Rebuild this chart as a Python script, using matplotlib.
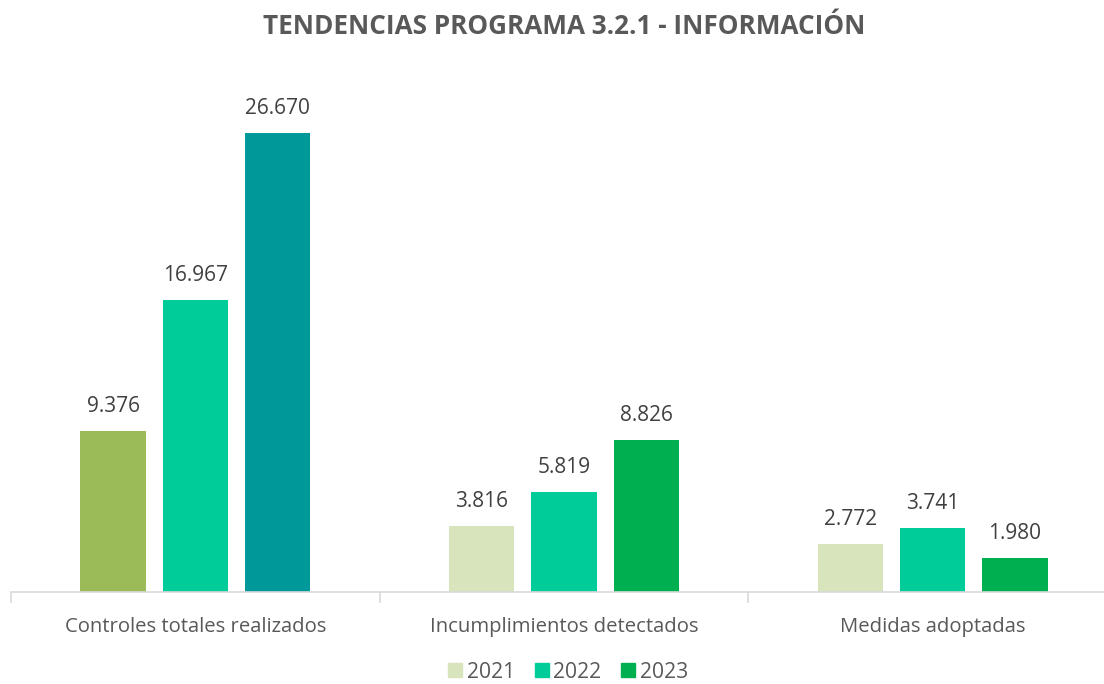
import numpy as np
import matplotlib.pyplot as plt
from matplotlib.patches import Patch

# data
categories = ["Controles totales realizados", "Incumplimientos detectados", "Medidas adoptadas"]
years = ["2021", "2022", "2023"]
v2021 = [9376, 3816, 2772]
v2022 = [16967, 5819, 3741]
v2023 = [26670, 8826, 1980]

# colours (first group is coloured differently in the original)
legend_colors = ["#D8E4BC", "#00CC99", "#00B050"]
bar_colors = [
    ["#9BBB59", "#00CC99", "#009999"],
    ["#D8E4BC", "#00CC99", "#00B050"],
    ["#D8E4BC", "#00CC99", "#00B050"],
]

plt.rcParams['font.family'] = ['Open Sans', 'DejaVu Sans']

fig = plt.figure(figsize=(11.04, 6.84), dpi=100)
# the plot area runs past the right edge in the original
ax = fig.add_axes([11 / 1104, 92 / 684, 1106 / 1104, 516 / 684])

x = np.arange(len(categories))
width = 0.177
step = 0.223
series = [v2021, v2022, v2023]

for j, vals in enumerate(series):
    for i, v in enumerate(vals):
        xpos = x[i] + (j - 1) * step
        ax.bar(xpos, v, width=width, color=bar_colors[i][j])
        label = f"{v:,}".replace(",", ".")
        ax.annotate(label, (xpos, v), xytext=(0, 10), textcoords="offset points",
                    ha="center", va="bottom", fontsize=15, color="#404040")

ax.set_xlim(-0.5, len(categories) - 0.5)
ax.set_ylim(0, 30000)
ax.set_yticks([])
for s in ["top", "right", "left"]:
    ax.spines[s].set_visible(False)
ax.spines["bottom"].set_color("#D9D9D9")
ax.spines["bottom"].set_linewidth(1.2)

# group separator ticks
ax.set_xticks(np.arange(-0.5, len(categories)), minor=True)
ax.tick_params(axis="x", which="minor", length=8, color="#D9D9D9", width=1.2)
ax.set_xticks(x)
ax.set_xticklabels(categories, fontsize=14.6, color="#595959")
ax.tick_params(axis="x", which="major", length=0, pad=18)

fig.text(564 / 1104, 1 - 27 / 684, "TENDENCIAS PROGRAMA 3.2.1 - INFORMACIÓN",
         ha="center", va="center", fontsize=18.8, fontweight="bold", color="#595959")

handles = [Patch(color=c) for c in legend_colors]
fig.legend(handles, years, loc="center", ncol=3, frameon=False,
           fontsize=15.2, labelcolor="#595959", bbox_to_anchor=(568 / 1104, 1 - 672 / 684),
           handlelength=0.67, handleheight=0.67, handletextpad=0.2, columnspacing=0.95,
           borderpad=0)

fig.savefig("out.png", dpi=100)
